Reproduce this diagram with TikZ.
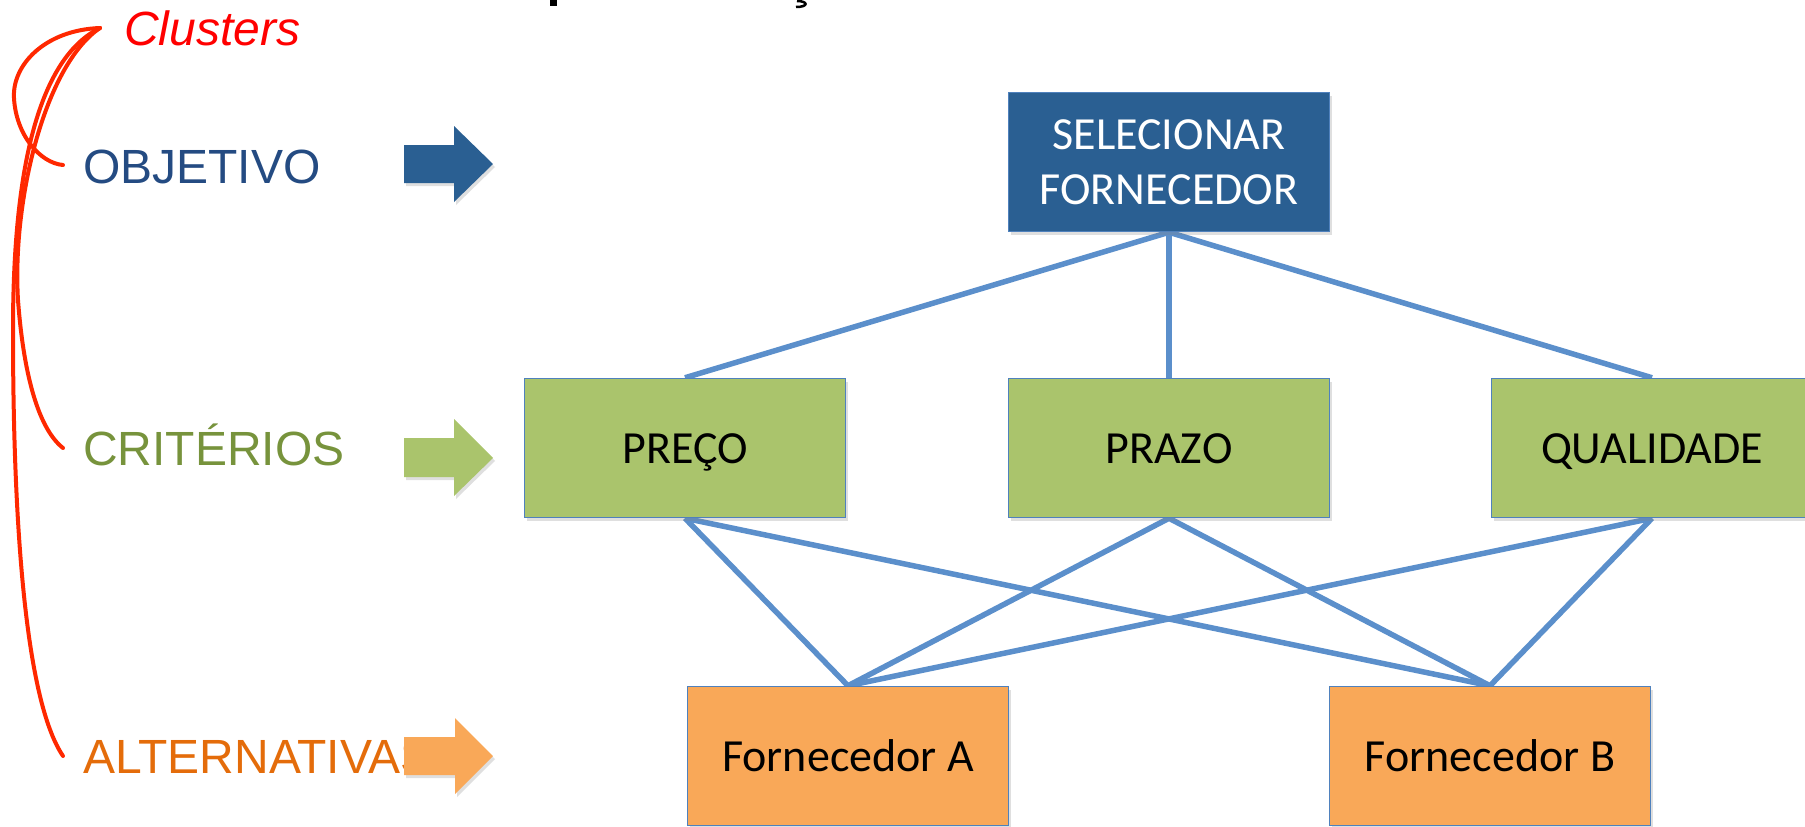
\documentclass[tikz,border=0pt]{standalone}
\usepackage{fontspec}
\setmainfont{Carlito}
\newfontfamily\arialf{Liberation Sans}
\usetikzlibrary{shadows,backgrounds}
\definecolor{objblue}{RGB}{42,95,146}
\definecolor{critgreen}{RGB}{170,196,108}
\definecolor{altorange}{RGB}{249,168,88}
\definecolor{edgeblue}{RGB}{91,143,203}
\definecolor{bordblue}{RGB}{79,129,189}
\definecolor{lblblue}{RGB}{36,75,130}
\definecolor{lblgreen}{RGB}{119,147,60}
\definecolor{lblorange}{RGB}{228,108,10}
\definecolor{curvered}{RGB}{255,40,0}
\begin{document}
\begin{tikzpicture}[x=1pt,y=-1pt,
  box/.style={draw=bordblue, line width=1.5pt, minimum width=321pt, minimum height=139pt,
    inner sep=0pt, align=center, font=\fontsize{46}{55}\selectfont,
    drop shadow={opacity=0.25, shadow xshift=2pt, shadow yshift=-3pt}},
  onerow/.style={text height=30pt, text depth=0pt},
  objbox/.style={box, fill=objblue, text=white},
  critbox/.style={box, onerow, fill=critgreen, text=black},
  altbox/.style={box, onerow, fill=altorange, text=black},
  link/.style={draw=edgeblue, line width=5.5pt},
  lbl/.style={anchor=base west, inner sep=0pt, font=\arialf\fontsize{48}{56}\selectfont},
  bigarrow/.style={drop shadow={opacity=0.25, shadow xshift=2pt, shadow yshift=-3pt}},
  bracecurve/.style={draw=curvered, line width=4pt, line cap=round}]
\useasboundingbox (0,0) rectangle (1805,827);

% cut-off title fragments
\fill (550,0) rectangle (557,6);
\draw[line width=2.5pt] (797,1) .. controls (808,1) and (809,7) .. (796,7);

% nodes
\node[objbox] (sel) at (1169,162) {SELECIONAR\\FORNECEDOR};
\node[critbox] (preco) at (685,448) {PREÇO};
\node[critbox] (prazo) at (1169,448) {PRAZO};
\node[critbox] (qual) at (1652,448) {QUALIDADE};
\node[altbox] (fa) at (848,756) {Fornecedor A};
\node[altbox] (fb) at (1490,756) {Fornecedor B};

% links
\begin{pgfonlayer}{background}
\draw[link] (sel.south) -- (preco.north);
\draw[link] (sel.south) -- (prazo.north);
\draw[link] (sel.south) -- (qual.north);
\foreach \c in {preco,prazo,qual}{
  \draw[link] (\c.south) -- (fa.north);
  \draw[link] (\c.south) -- (fb.north);
}
\end{pgfonlayer}

% left labels
\node[lbl, text=red, font=\arialf\itshape\fontsize{48}{56}\selectfont] (clusters) at (124,45) {Clusters};
\node[lbl, text=lblblue] (objl) at (83,183) {OBJETIVO};
\node[lbl, text=lblgreen] (critl) at (83,465) {CRITÉRIOS};
\node[lbl, text=lblorange] (altl) at (83,773) {ALTERNATIVAS};

% block arrows
\fill[objblue, bigarrow] (404,145) -- (454,145) -- (454,126) -- (493,164) -- (454,202) -- (454,183) -- (404,183) -- cycle;
\fill[critgreen, bigarrow] (404,438) -- (454,438) -- (454,419) -- (493,458) -- (454,496) -- (454,477) -- (404,477) -- cycle;
\fill[altorange, bigarrow] (404,737) -- (455,737) -- (455,718) -- (493,756) -- (455,794) -- (455,775) -- (404,775) -- cycle;

% red hand-drawn brace curves
\coordinate (top) at (100,28);
\draw[bracecurve] (top) .. controls (45,30) and (12,65) .. (14,98) .. controls (16,135) and (40,163) .. (63,165);
\draw[bracecurve] (top) .. controls (45,65) and (12,200) .. (18,300) .. controls (24,380) and (40,430) .. (63,448);
\draw[bracecurve] (top) .. controls (35,60) and (13,180) .. (13,330) .. controls (13,520) and (25,700) .. (63,756);
\end{tikzpicture}
\end{document}
